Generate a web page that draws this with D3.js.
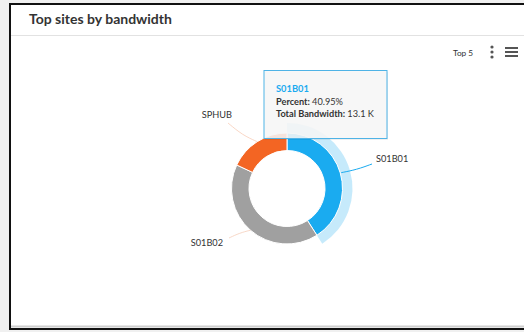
<!DOCTYPE html>
<html><head><meta charset="utf-8">
<script src="https://cdn.jsdelivr.net/npm/d3@7/dist/d3.min.js"></script>
<style>
html,body{margin:0;padding:0;background:#f0f0f0;overflow:hidden;}
svg{display:block;font-family:Lato,"Open Sans",sans-serif;}
</style></head><body>
<svg id="c" width="524" height="332"></svg>
<script>
const title = "Top sites by bandwidth";
const categories = ["S01B01", "S01B02", "SPHUB"];
const bandwidth = [13100, 13120, 5770];
const colors = ["#1aabf0", "#a0a0a0", "#f36523"];
const topLabel = "Top 5";
const hovered = 0;

const svg = d3.select("#c");
// panel
svg.append("rect").attr("x",10).attr("y",4).attr("width",560).attr("height",325)
  .attr("fill","#fff").attr("stroke","#111").attr("stroke-width",2);
svg.append("line").attr("x1",11).attr("x2",524).attr("y1",326.5).attr("y2",326.5)
  .attr("stroke","#cfcfcf").attr("stroke-width",2);
svg.append("line").attr("x1",11).attr("x2",524).attr("y1",35.5).attr("y2",35.5)
  .attr("stroke","#e2e2e2").attr("stroke-width",1);
svg.append("text").attr("x",29).attr("y",23.5).attr("font-size",14).attr("font-weight",700)
  .attr("fill","#333").text(title);

// toolbar
svg.append("text").attr("x",453).attr("y",55.5).attr("font-size",8.3).attr("fill","#333").text(topLabel);
[47,52,57].forEach(y=>svg.append("circle").attr("cx",492).attr("cy",y).attr("r",1.6).attr("fill","#555"));
[48,52,56].forEach(y=>svg.append("rect").attr("x",505).attr("y",y-1).attr("width",13).attr("height",2).attr("fill","#555"));

// donut
const cx = 287, cy = 188.5, rOut = 55.5, rIn = 38;
const total = d3.sum(bandwidth);
const data = categories.map((c,i)=>({name:c, value:bandwidth[i], color:colors[i]}));
const pie = d3.pie().sort(null).value(d=>d.value).startAngle(0).endAngle(2*Math.PI);
const arcs = pie(data);
const arc = d3.arc().innerRadius(rIn).outerRadius(rOut);
const halo = d3.arc().innerRadius(rOut).outerRadius(rOut+10);
const g = svg.append("g").attr("transform",`translate(${cx},${cy})`);

g.append("path").attr("d",halo(arcs[hovered])).attr("fill",colors[hovered]).attr("opacity",0.25);
g.selectAll("path.s").data(arcs).join("path").attr("class","s")
  .attr("d",arc).attr("fill",d=>d.data.color).attr("stroke","#fff").attr("stroke-width",1);

// labels with connectors
const labelPos = [
  {lx:376, ly:162, anchor:"start"},
  {lx:223, ly:246, anchor:"end"},
  {lx:232, ly:118, anchor:"end"}
];
const polar = (a,r)=>[cx+r*Math.sin(a), cy-r*Math.cos(a)];
arcs.forEach((d,i)=>{
  const mid = (d.startAngle+d.endAngle)/2;
  const p0 = polar(mid, rOut + (i===hovered?1:0));
  const lp = labelPos[i];
  let p2;
  if (i===0) p2 = [lp.lx-4, lp.ly+2];
  else if (i===1) p2 = [lp.lx+6, lp.ly-8];
  else p2 = [lp.lx-4, lp.ly+5];
  const p1 = [p0[0]+(p2[0]-p0[0])*0.5, p0[1]+(p2[1]-p0[1])*0.35];
  svg.append("path").attr("d",d3.line().curve(d3.curveBasis)([p0,p1,p2]))
    .attr("fill","none").attr("stroke", i===hovered? d.data.color : (i===1?"#f3c7b0":"#f6c6ae"))
    .attr("stroke-width",1).attr("opacity", i===hovered?1:0.7);
  svg.append("text").attr("x",lp.lx).attr("y",lp.ly).attr("text-anchor",lp.anchor)
    .attr("font-size",9.2).attr("fill","#333").text(d.data.name);
});

// tooltip
const h = data[hovered];
const tip = svg.append("g");
tip.append("rect").attr("x",265).attr("y",72).attr("width",123).attr("height",68)
  .attr("fill","#000").attr("opacity",0.06);
tip.append("rect").attr("x",264).attr("y",70.5).attr("width",123).attr("height",68)
  .attr("fill","#f7f7f7").attr("fill-opacity",0.88).attr("stroke","#4fb3e6").attr("stroke-width",1);
tip.append("text").attr("x",276).attr("y",92).attr("font-size",9.3).attr("font-weight",700)
  .attr("fill",h.color).text(h.name);
const pct = (h.value/total*100).toFixed(2)+"%";
const t2 = tip.append("text").attr("x",276).attr("y",104.5).attr("font-size",9.2).attr("fill","#333");
t2.append("tspan").attr("font-weight",700).text("Percent: ");
t2.append("tspan").text(pct);
const t3 = tip.append("text").attr("x",276).attr("y",116.5).attr("font-size",9.2).attr("fill","#333");
t3.append("tspan").attr("font-weight",700).text("Total Bandwidth: ");
t3.append("tspan").text((h.value/1000).toFixed(1)+" K");
</script></body></html>
